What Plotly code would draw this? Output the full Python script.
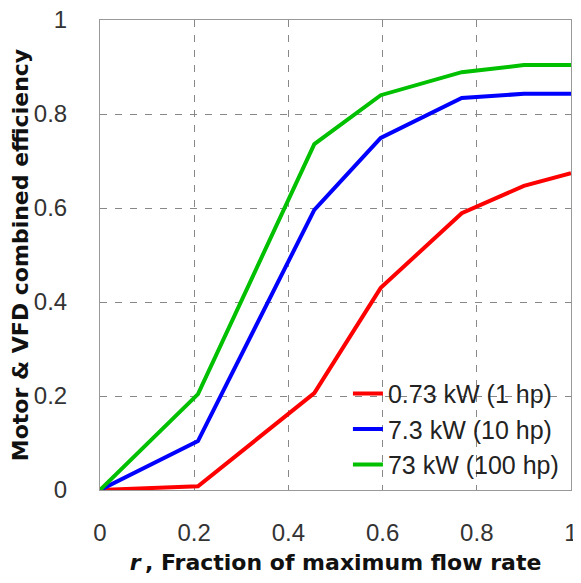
import plotly.graph_objects as go

x_vals = [0, 0.208, 0.455, 0.596, 0.768, 0.90, 1.0]
red_1hp = [0, 0.008, 0.206, 0.43, 0.589, 0.647, 0.674]
blue_10hp = [0, 0.104, 0.596, 0.749, 0.834, 0.843, 0.843]
green_100hp = [0, 0.204, 0.736, 0.840, 0.889, 0.904, 0.904]
names = ["0.73 kW (1 hp)", "7.3 kW (10 hp)", "73 kW (100 hp)"]
colors = ["#ff0000", "#0000ff", "#00c000"]
tick_vals = [0, 0.2, 0.4, 0.6, 0.8, 1]
tick_text = ["0", "0.2", "0.4", "0.6", "0.8", "1"]

fig = go.Figure()
for ys, nm, c in zip([red_1hp, blue_10hp, green_100hp], names, colors):
    fig.add_trace(go.Scatter(x=x_vals, y=ys, mode="lines", name=nm,
                             line=dict(color=c, width=4)))

axis_common = dict(
    range=[0, 1], tickvals=tick_vals, ticktext=tick_text,
    showgrid=True, gridcolor="#888888", griddash="7px,8px", gridwidth=1,
    showline=True, linecolor="#999999", linewidth=1, mirror=True,
    zeroline=False, ticks="", automargin=False, ticklabeloverflow="allow",
    tickfont=dict(family="Liberation Sans, Arial", size=24, color="#333333"),
)

title_font = dict(family="DejaVu Sans", size=22, color="#111111")

# page body has an 8px margin, so the figure is sized to fit the window
fig.update_layout(
    width=573, height=567,
    margin=dict(l=92, r=10, t=12, b=85),
    paper_bgcolor="white", plot_bgcolor="white",
    font=dict(family="Liberation Sans, Arial", color="#111111"),
    xaxis=dict(**axis_common, ticklabelstandoff=21,
               title=dict(text="<b><i>r</i>\u2009, Fraction of maximum flow rate</b>",
                          font=title_font, standoff=14)),
    yaxis=dict(**axis_common, ticklabelstandoff=27,
               title=dict(text="<b>Motor &amp; VFD combined efficiency</b>",
                          font=title_font, standoff=0)),
    legend=dict(x=0.985, y=0.005, xanchor="right", yanchor="bottom",
                bgcolor="rgba(255,255,255,0)", borderwidth=0,
                font=dict(family="Liberation Sans, Arial", size=25, color="#222222"),
                tracegroupgap=0),
    showlegend=True,
)

fig.write_html("out.html")
